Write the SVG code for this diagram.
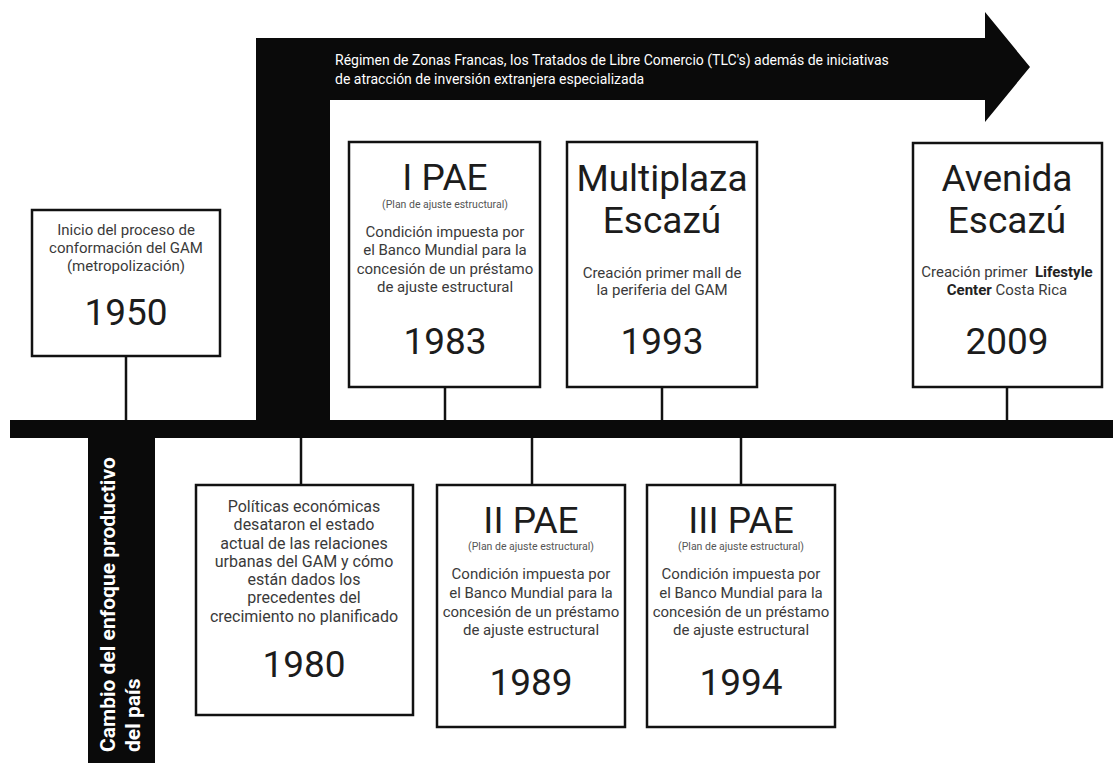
<svg xmlns="http://www.w3.org/2000/svg" width="1113" height="763" viewBox="0 0 1113 763">
<style>
text{font-family:Roboto,"Liberation Sans",sans-serif;}
.box{fill:#fff;stroke:#111;stroke-width:2.5;}
.con{stroke:#111;stroke-width:2.5;fill:none;}
.t{font-size:37px;fill:#1c1c1c;text-anchor:middle;}
.y{font-size:37px;fill:#1c1c1c;text-anchor:middle;}
.s{font-size:10.5px;fill:#555;text-anchor:middle;}
.b{font-size:15px;fill:#3a3a3a;text-anchor:middle;}
.b16{font-size:16px;fill:#3a3a3a;text-anchor:middle;}
.w{font-size:14px;fill:#fff;}
.v{font-size:21px;fill:#fff;font-weight:bold;}
.k{font-weight:bold;fill:#222;}
</style>
<rect width="1113" height="763" fill="#fff"/>
<g id="connectors">
<polygon points="256,420 256,38 985,38 985,12 1030,67 985,122 985,100 330,100 330,420" fill="#0a0a0a"/>
<rect x="10" y="420" width="1103" height="18" fill="#0a0a0a"/>
<rect x="88" y="438" width="67" height="325" fill="#0a0a0a"/>
<line class="con" x1="126" y1="356" x2="126" y2="420"/>
<line class="con" x1="445" y1="387" x2="445" y2="420"/>
<line class="con" x1="662" y1="387" x2="662" y2="420"/>
<line class="con" x1="1007" y1="387" x2="1007" y2="420"/>
<line class="con" x1="301" y1="438" x2="301" y2="485"/>
<line class="con" x1="532" y1="438" x2="532" y2="485"/>
<line class="con" x1="741" y1="438" x2="741" y2="485"/>
</g>
<g id="arrow-label">
<text class="w" x="335" y="65">Régimen de Zonas Francas, los Tratados de Libre Comercio (TLC's) además de iniciativas</text>
<text class="w" x="335" y="84">de atracción de inversión extranjera especializada</text>
</g>
<g id="stem-label" transform="translate(0,752) rotate(-90)">
<text class="v" x="0" y="115">Cambio del enfoque productivo</text>
<text class="v" x="0" y="140">del país</text>
</g>
<g id="n1950">
<rect class="box" x="32" y="210" width="188" height="146"/>
<text class="b" x="126" y="235">Inicio del proceso de</text>
<text class="b" x="126" y="253">conformación del GAM</text>
<text class="b" x="126" y="271">(metropolización)</text>
<text class="y" x="126" y="325">1950</text>
</g>
<g id="n1983">
<rect class="box" x="349" y="142" width="191" height="245"/>
<text class="t" x="445" y="190">I PAE</text>
<text class="s" x="445" y="208">(Plan de ajuste estructural)</text>
<text class="b" x="445" y="237">Condición impuesta por</text>
<text class="b" x="445" y="255">el Banco Mundial para la</text>
<text class="b" x="445" y="274">concesión de un préstamo</text>
<text class="b" x="445" y="292">de ajuste estructural</text>
<text class="y" x="445" y="354">1983</text>
</g>
<g id="n1993">
<rect class="box" x="567" y="142" width="190" height="245"/>
<text class="t" x="662" y="191">Multiplaza</text>
<text class="t" x="662" y="233">Escazú</text>
<text class="b" x="662" y="278">Creación primer mall de</text>
<text class="b" x="662" y="295">la periferia del GAM</text>
<text class="y" x="662" y="354">1993</text>
</g>
<g id="n2009">
<rect class="box" x="913" y="143" width="189" height="244"/>
<text class="t" x="1007" y="191">Avenida</text>
<text class="t" x="1007" y="233">Escazú</text>
<text class="b" x="1007" y="277">Creación primer&#160; <tspan class="k">Lifestyle</tspan></text>
<text class="b" x="1007" y="295"><tspan class="k">Center</tspan> Costa Rica</text>
<text class="y" x="1007" y="354">2009</text>
</g>
<g id="n1980">
<rect class="box" x="196" y="485" width="217" height="230"/>
<text class="b16" x="304" y="512">Políticas económicas</text>
<text class="b16" x="304" y="530">desataron el estado</text>
<text class="b16" x="304" y="549">actual de las relaciones</text>
<text class="b16" x="304" y="567">urbanas del GAM y cómo</text>
<text class="b16" x="304" y="585">están dados los</text>
<text class="b16" x="304" y="603">precedentes del</text>
<text class="b16" x="304" y="622">crecimiento no planificado</text>
<text class="y" x="304" y="677">1980</text>
</g>
<g id="n1989">
<rect class="box" x="437" y="485" width="188" height="242"/>
<text class="t" x="531" y="533">II PAE</text>
<text class="s" x="531" y="550">(Plan de ajuste estructural)</text>
<text class="b" x="531" y="579">Condición impuesta por</text>
<text class="b" x="531" y="598">el Banco Mundial para la</text>
<text class="b" x="531" y="617">concesión de un préstamo</text>
<text class="b" x="531" y="635">de ajuste estructural</text>
<text class="y" x="531" y="695">1989</text>
</g>
<g id="n1994">
<rect class="box" x="647" y="485" width="188" height="242"/>
<text class="t" x="741" y="533">III PAE</text>
<text class="s" x="741" y="550">(Plan de ajuste estructural)</text>
<text class="b" x="741" y="579">Condición impuesta por</text>
<text class="b" x="741" y="598">el Banco Mundial para la</text>
<text class="b" x="741" y="617">concesión de un préstamo</text>
<text class="b" x="741" y="635">de ajuste estructural</text>
<text class="y" x="741" y="695">1994</text>
</g>
</svg>
